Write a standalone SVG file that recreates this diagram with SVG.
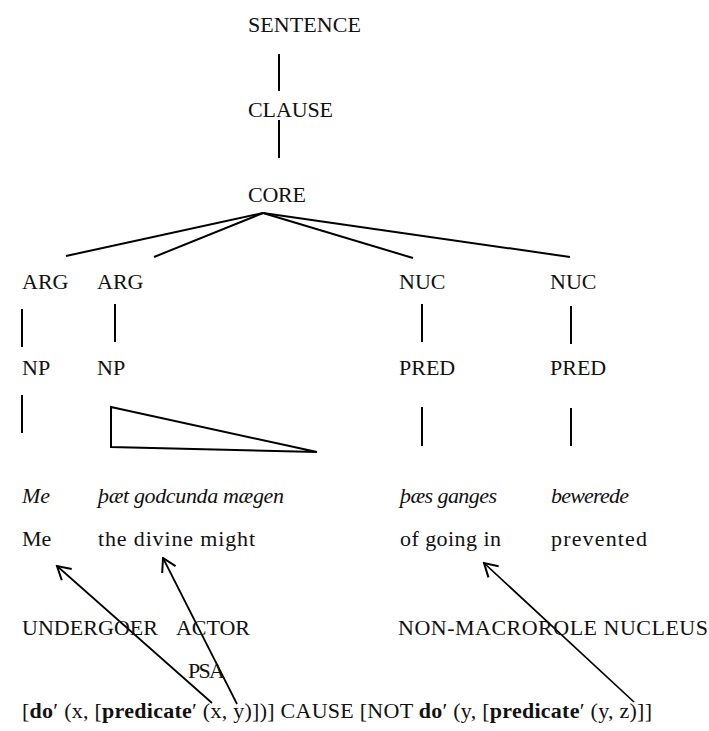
<svg xmlns="http://www.w3.org/2000/svg" width="709" height="731" viewBox="0 0 709 731">
<style>
text{font-family:"Liberation Serif","Times New Roman","DejaVu Serif",serif;font-size:22px;fill:#111}
.it{font-style:italic}
.b{font-weight:bold}
.edge{stroke:#000;stroke-width:2;fill:none;stroke-linecap:butt}
.arr{stroke:#000;stroke-width:1.7;fill:none}
</style>
<defs>
<marker id="ah" viewBox="0 0 16 18" refX="14.5" refY="9" markerWidth="16" markerHeight="18" markerUnits="userSpaceOnUse" orient="auto">
<path d="M1.5,1.5 L14.5,9 L1.5,16.5" fill="none" stroke="#000" stroke-width="2"/>
</marker>
</defs>
<rect width="709" height="731" fill="#fff"/>
<g id="connectors">
<line class="edge" x1="279" y1="54" x2="279" y2="91"/>
<line class="edge" x1="279" y1="120" x2="279" y2="158"/>
<line class="edge" x1="263" y1="213" x2="66" y2="256"/>
<line class="edge" x1="263" y1="213" x2="154" y2="257"/>
<line class="edge" x1="263" y1="213" x2="413" y2="258"/>
<line class="edge" x1="263" y1="213" x2="570" y2="257"/>
<line class="edge" x1="22" y1="309" x2="22" y2="347"/>
<line class="edge" x1="115" y1="304" x2="115" y2="342"/>
<line class="edge" x1="422" y1="304" x2="422" y2="342"/>
<line class="edge" x1="571" y1="306" x2="571" y2="344"/>
<line class="edge" x1="22" y1="395" x2="22" y2="433"/>
<polygon class="edge" points="111,407 111,447 317,452"/>
<line class="edge" x1="422" y1="407" x2="422" y2="446"/>
<line class="edge" x1="571" y1="408" x2="571" y2="446"/>
<line class="arr" x1="212" y1="703" x2="57" y2="566" marker-end="url(#ah)"/>
<line class="arr" x1="237" y1="704" x2="163" y2="558" marker-end="url(#ah)"/>
<line class="arr" x1="634" y1="702" x2="484" y2="563" marker-end="url(#ah)"/>
</g>
<g id="sentence"><text x="248" y="32" textLength="113">SENTENCE</text></g>
<g id="clause"><text x="248" y="117" textLength="85">CLAUSE</text></g>
<g id="core"><text x="248" y="202" textLength="58">CORE</text></g>
<g id="arg1"><text x="22" y="289">ARG</text></g>
<g id="arg2"><text x="97" y="289">ARG</text></g>
<g id="nuc1"><text x="399" y="289">NUC</text></g>
<g id="nuc2"><text x="550" y="289">NUC</text></g>
<g id="np1"><text x="22" y="375">NP</text></g>
<g id="np2"><text x="97" y="375">NP</text></g>
<g id="pred1"><text x="399" y="375">PRED</text></g>
<g id="pred2"><text x="550" y="375">PRED</text></g>
<g id="oe-me"><text class="it" x="22" y="503">Me</text></g>
<g id="oe-np"><text class="it" x="98" y="503" textLength="186">þæt godcunda mægen</text></g>
<g id="oe-ganges"><text class="it" x="400" y="503" textLength="97">þæs ganges</text></g>
<g id="oe-bewerede"><text class="it" x="551" y="503" textLength="78">bewerede</text></g>
<g id="en-me"><text x="22" y="546">Me</text></g>
<g id="en-np"><text x="98" y="546" textLength="157">the divine might</text></g>
<g id="en-going"><text x="400" y="546" textLength="101">of going in</text></g>
<g id="en-prevented"><text x="551" y="546" textLength="96">prevented</text></g>
<g id="undergoer"><text x="22" y="635" textLength="136">UNDERGOER</text></g>
<g id="actor"><text x="176" y="635" textLength="74">ACTOR</text></g>
<g id="nmr"><text x="398" y="635" textLength="310">NON-MACROROLE NUCLEUS</text></g>
<g id="psa"><text x="188" y="678" textLength="37">PSA</text></g>
<g id="formula"><text x="22" y="718" textLength="630">[<tspan class="b">do</tspan>′ (x, [<tspan class="b">predicate</tspan>′ (x, y)])] CAUSE [NOT <tspan class="b">do</tspan>′ (y, [<tspan class="b">predicate</tspan>′ (y, z)]]</text></g>
</svg>
